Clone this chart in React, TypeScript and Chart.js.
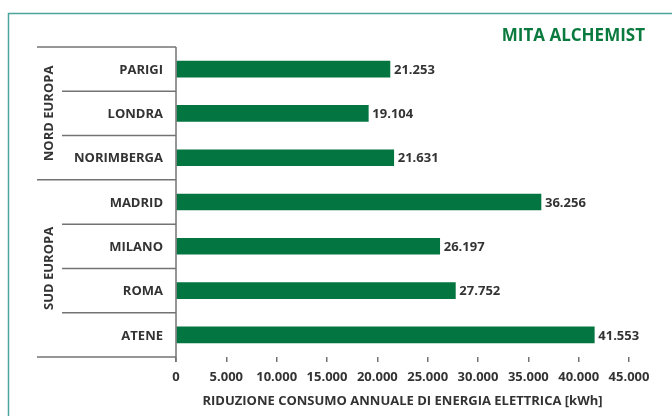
import React, { useEffect, useRef } from "react";
import { Chart, registerables } from "chart.js";
Chart.register(...registerables);

const categories = ["PARIGI", "LONDRA", "NORIMBERGA", "MADRID", "MILANO", "ROMA", "ATENE"];
const values = [21253, 19104, 21631, 36256, 26197, 27752, 41553];
const groupLabels = ["NORD EUROPA", "SUD EUROPA"];
const groupStarts = [0, 3];
const groupEnds = [2, 6];
const xMin = 0;
const xMax = 45000;
const xStep = 5000;
const chartTitle = "MITA ALCHEMIST";
const axisTitle = "RIDUZIONE CONSUMO ANNUALE DI ENERGIA ELETTRICA [kWh]";

const FONT = "'Open Sans', 'Noto Sans', sans-serif";
const TEXT = "#333333";
const GREEN = "#037540";
const LINE = "#737373";

const fmt = (v: number) => String(Math.round(v)).replace(/\B(?=(\d{3})+(?!\d))/g, ".");

const decorPlugin = {
  id: "decor",
  beforeDraw(chart: any) {
    const ctx = chart.ctx;
    ctx.save();
    ctx.fillStyle = "#ffffff";
    ctx.fillRect(0, 0, chart.width, chart.height);
    ctx.strokeStyle = "#4aa59c";
    ctx.lineWidth = 1.5;
    ctx.strokeRect(8.5, 13.5, chart.width + 20, chart.height + 20);
    ctx.restore();
  },
  afterDraw(chart: any) {
    const ctx = chart.ctx;
    const y = chart.scales.y;
    const x = chart.scales.x;
    const area = chart.chartArea;
    const axisX = area.left;
    const longLeft = 37;
    const shortLeft = 62;
    ctx.save();
    ctx.strokeStyle = LINE;
    ctx.lineWidth = 1.5;
    // vertical axis line
    ctx.beginPath();
    ctx.moveTo(axisX, area.top);
    ctx.lineTo(axisX, area.bottom + 5);
    ctx.stroke();
    // separators
    const n = categories.length;
    const pos = (i: number) => y.getPixelForValue(i);
    const half = (pos(1) - pos(0)) / 2;
    for (let i = 0; i <= n; i++) {
      const yy = i === 0 ? area.top : i === n ? area.bottom : (pos(i - 1) + pos(i)) / 2;
      const isGroupEdge = i === 0 || i === n || groupStarts.includes(i);
      ctx.beginPath();
      ctx.moveTo(isGroupEdge ? longLeft : shortLeft, yy);
      ctx.lineTo(axisX, yy);
      ctx.stroke();
    }
    // category labels
    ctx.fillStyle = TEXT;
    ctx.font = `bold 13px ${FONT}`;
    ctx.textAlign = "right";
    ctx.textBaseline = "middle";
    categories.forEach((c, i) => ctx.fillText(c, axisX - 13, pos(i) + 1));
    // group labels
    groupLabels.forEach((g, gi) => {
      const top = pos(groupStarts[gi]) - half;
      const bot = pos(groupEnds[gi]) + half;
      ctx.save();
      ctx.translate(49, (top + bot) / 2);
      ctx.rotate(-Math.PI / 2);
      ctx.textAlign = "center";
      ctx.textBaseline = "middle";
      ctx.fillText(g, 0, 0);
      ctx.restore();
    });
    // value labels
    ctx.textAlign = "left";
    values.forEach((v, i) => {
      ctx.fillText(fmt(v), x.getPixelForValue(v) + 4, pos(i) + 1);
    });
    // title
    ctx.fillStyle = "#0b7a3e";
    ctx.font = `bold 17px ${FONT}`;
    ctx.textAlign = "right";
    ctx.fillText(chartTitle, 645, 36);
    ctx.restore();
  },
};

export default function App() {
  const ref = useRef<HTMLCanvasElement>(null);
  useEffect(() => {
    const chart = new Chart(ref.current!, {
      type: "bar",
      data: {
        labels: categories,
        datasets: [
          {
            data: values,
            backgroundColor: GREEN,
            borderWidth: 0,
            barThickness: 16,
          },
        ],
      },
      options: {
        indexAxis: "y",
        animation: false,
        responsive: false,
        layout: { padding: { top: 47, right: 43, left: 0, bottom: 0 } },
        plugins: { legend: { display: false }, tooltip: { enabled: false } },
        scales: {
          x: {
            min: xMin,
            max: xMax,
            ticks: {
              stepSize: xStep,
              callback: (v: any) => fmt(Number(v)),
              font: { family: FONT, size: 13, weight: "bold" },
              color: TEXT,
              padding: 7,
              maxRotation: 0,
              autoSkip: false,
            },
            grid: { drawOnChartArea: false, drawTicks: true, tickLength: 5, color: LINE, lineWidth: 1.5 },
            border: { display: false },
            title: {
              display: true,
              text: axisTitle,
              font: { family: FONT, size: 13, weight: "bold" },
              color: TEXT,
              padding: { top: 0, bottom: 7 },
            },
            afterFit: (s: any) => {
              s.height = 59;
            },
          },
          y: {
            ticks: { display: false },
            grid: { display: false },
            border: { display: false },
            afterFit: (s: any) => {
              s.width = 176;
            },
          },
        },
      },
      plugins: [decorPlugin],
    } as any);
    return () => chart.destroy();
  }, []);
  return (
    <div style={{ position: "fixed", left: 0, top: 0, width: 672, height: 416, background: "#fff" }}>
      <canvas ref={ref} width={672} height={416} />
    </div>
  );
}
